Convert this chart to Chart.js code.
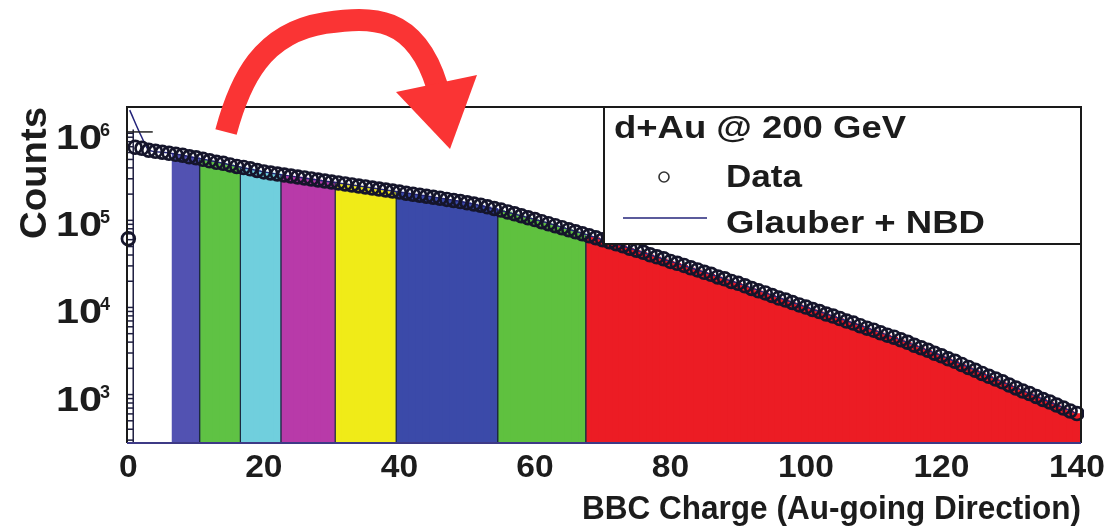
<!DOCTYPE html>
<html>
<head>
<meta charset="utf-8">
<script src="https://cdn.jsdelivr.net/npm/chart.js@4.4.1/dist/chart.umd.min.js"></script>
<style>
  html, body { margin: 0; padding: 0; background: #fff; }
  #wrap { width: 1109px; height: 530px; }
</style>
</head>
<body>
<div id="wrap"><canvas id="c" width="1109" height="530"></canvas></div>
<script>
// BBC charge (Au-going side), d+Au at 200 GeV: counts per unit charge bin, bins 0..140
const counts = [
  6.15e4, 6.89e5, 6.71e5, 6.37e5, 6.20e5, 6.04e5, 5.88e5, 5.72e5, 5.58e5, 5.36e5,
  5.22e5, 5.01e5, 4.82e5, 4.63e5, 4.51e5, 4.33e5, 4.16e5, 4.05e5, 3.90e5, 3.74e5,
  3.60e5, 3.50e5, 3.41e5, 3.32e5, 3.23e5, 3.15e5, 3.07e5, 2.99e5, 2.91e5, 2.83e5,
  2.76e5, 2.69e5, 2.62e5, 2.55e5, 2.48e5, 2.42e5, 2.35e5, 2.29e5, 2.23e5, 2.17e5,
  2.11e5, 2.05e5, 1.99e5, 1.94e5, 1.89e5, 1.84e5, 1.79e5, 1.74e5, 1.69e5, 1.64e5,
  1.59e5, 1.54e5, 1.49e5, 1.43e5, 1.37e5, 1.31e5, 1.25e5, 1.19e5, 1.13e5, 1.07e5,
  1.02e5, 9.66e4, 9.16e4, 8.69e4, 8.24e4, 7.81e4, 7.41e4, 7.02e4, 6.66e4, 6.32e4,
  5.99e4, 5.68e4, 5.39e4, 5.11e4, 4.78e4, 4.53e4, 4.30e4, 4.02e4, 3.81e4, 3.62e4,
  3.38e4, 3.21e4, 3.04e4, 2.85e4, 2.70e4, 2.53e4, 2.40e4, 2.24e4, 2.13e4, 1.99e4,
  1.89e4, 1.77e4, 1.65e4, 1.55e4, 1.47e4, 1.37e4, 1.28e4, 1.22e4, 1.14e4, 1.07e4,
  1.01e4, 9460, 8970, 8390, 7960, 7450, 6970, 6610, 6180, 5790,
  5490, 5130, 4810, 4560, 4260, 3990, 3680, 3450, 3230, 2980,
  2790, 2570, 2410, 2220, 2050, 1900, 1750, 1620, 1510, 1400,
  1290, 1190, 1100, 1030, 951, 878, 822, 759, 700, 647,
  605
];

// Glauber + NBD description of the same distribution
const fitCharge = [0.2, 1.95, 3, 5, 10, 20, 30, 40, 50, 60, 70, 80, 90, 100, 110, 120, 130, 140];
const fitCounts = [1.84e6, 9.1e5, 6.45e5, 6.04e5, 5.22e5, 3.60e5, 2.76e5, 2.11e5, 1.59e5, 1.02e5,
                   5.99e4, 3.38e4, 1.89e4, 1.01e4, 5.49e3, 2.79e3, 1.29e3, 605];

// short horizontal marker on the first bins
const capCharge = [-0.2, 3.6];
const capCounts = [1.035e6, 1.035e6];

// centrality classes: edges in BBC charge and their fill colours
const bandEdges = [6.5, 10.5, 16.5, 22.5, 30.5, 39.5, 54.5, 67.5, 140.5];
const bandColors = ['#5252b2', '#5fc244', '#70cfdd', '#b83aa9', '#f0eb18', '#3b4aa9', '#5fc13f', '#ec1c24'];

// zero-charge bin outline and its log-spaced tick rungs
const railCharge = [0.72, 0.72];
const railCounts = [278, 1.1e6];
const rungCounts = [300, 400, 500, 600, 700, 800, 900,
  1e3, 2e3, 3e3, 4e3, 5e3, 6e3, 7e3, 8e3, 9e3,
  1e4, 2e4, 3e4, 4e4, 5e4, 6e4, 7e4, 8e4, 9e4,
  1e5, 2e5, 3e5, 4e5, 5e5, 6e5, 7e5, 8e5, 9e5, 1e6];

// axis labelling
const xTicks = [0, 20, 40, 60, 80, 100, 120, 140];
const yDecades = [3, 4, 5, 6];

const FONT = '"Liberation Sans", Arial, Helvetica, sans-serif';
const INK = '#1c1c1c';

function bandIndex(q) {
  for (let j = 0; j < bandColors.length; j++) {
    if (q > bandEdges[j] && q < bandEdges[j + 1]) return j;
  }
  return -1;
}
function isBandStart(q) {
  const j = bandIndex(q);
  return j >= 0 && bandIndex(q - 1) !== j;
}

// text helper: optional fit-to-width, alignment and rotation
function drawText(ctx, text, x, y, size, opt = {}) {
  ctx.save();
  ctx.font = 'bold ' + size + 'px ' + FONT;
  const nat = ctx.measureText(text).width;
  const sx = opt.width ? opt.width / nat : (opt.stretch || 1);
  const w = nat * sx;
  const align = opt.align || 'left';
  const x0 = align === 'center' ? -w / 2 : align === 'right' ? -w : 0;
  ctx.translate(x, y);
  if (opt.rotate) ctx.rotate(opt.rotate);
  ctx.scale(sx, 1);
  ctx.fillStyle = opt.color || INK;
  ctx.textAlign = 'left';
  ctx.textBaseline = 'alphabetic';
  ctx.fillText(text, x0 / sx, 0);
  ctx.restore();
}

const decorations = {
  id: 'decorations',
  afterDraw(chart) {
    const ctx = chart.ctx;
    const a = chart.chartArea;
    const xs = chart.scales.x, ys = chart.scales.y;

    // frame
    ctx.save();
    ctx.lineWidth = 2;
    ctx.strokeStyle = '#1a1a1a';
    ctx.beginPath();
    ctx.moveTo(a.left, a.bottom);
    ctx.lineTo(a.left, a.top);
    ctx.lineTo(a.right, a.top);
    ctx.lineTo(a.right, a.bottom);
    ctx.stroke();
    ctx.strokeStyle = '#3e3a86';
    ctx.beginPath();
    ctx.moveTo(a.left, a.bottom);
    ctx.lineTo(a.right, a.bottom);
    ctx.stroke();
    ctx.restore();

    // legend box
    const lx = a.right - 477, ly = a.top, lw = 477, lh = 137;
    ctx.save();
    ctx.fillStyle = '#fff';
    ctx.fillRect(lx, ly, lw, lh);
    ctx.lineWidth = 2;
    ctx.strokeStyle = '#1a1a1a';
    ctx.strokeRect(lx, ly, lw, lh);
    const dataSet = chart.data.datasets.find(d => d.label === 'Data');
    const fitSet = chart.data.datasets.find(d => d.label === 'Glauber + NBD');
    ctx.beginPath();
    ctx.arc(lx + 60, ly + 70, 5, 0, Math.PI * 2);
    ctx.lineWidth = 1.6;
    ctx.strokeStyle = '#333';
    ctx.stroke();
    ctx.beginPath();
    ctx.moveTo(lx + 19, ly + 111);
    ctx.lineTo(lx + 103, ly + 111);
    ctx.lineWidth = 1.5;
    ctx.strokeStyle = fitSet.borderColor;
    ctx.stroke();
    ctx.restore();
    drawText(ctx, 'd+Au @ 200 GeV', lx + 10, ly + 31, 31, { width: 292 });
    drawText(ctx, dataSet.label, lx + 122, ly + 80, 31, { width: 76 });
    drawText(ctx, fitSet.label, lx + 122, ly + 126, 31, { width: 259 });

    // x tick labels
    xTicks.forEach(v => {
      drawText(ctx, String(v), xs.getPixelForValue(v), 477, 32, { align: 'center', stretch: 1.05 });
    });
    // y tick labels 10^n
    yDecades.forEach(k => {
      const py = ys.getPixelForValue(Math.pow(10, k));
      drawText(ctx, '10', 102, py + 16, 35, { align: 'right', width: 46 });
      drawText(ctx, String(k), 100, py + 3, 18);
    });
    // axis titles
    drawText(ctx, 'Counts', 46, a.top, 37, { align: 'right', rotate: -Math.PI / 2, width: 132 });
    drawText(ctx, 'BBC Charge (Au-going Direction)', a.right, 519, 34, { align: 'right', width: 499 });

    // curved red arrow
    ctx.save();
    ctx.strokeStyle = '#fa3434';
    ctx.fillStyle = '#fa3434';
    ctx.lineWidth = 22;
    ctx.lineCap = 'butt';
    ctx.beginPath();
    ctx.moveTo(226, 132);
    ctx.bezierCurveTo(240, 80, 262, 33, 325, 23);
    ctx.bezierCurveTo(372, 16, 415, 15, 437, 86);
    ctx.stroke();
    ctx.beginPath();
    ctx.moveTo(396, 92);
    ctx.lineTo(477, 75);
    ctx.lineTo(450, 149);
    ctx.closePath();
    ctx.fill();
    ctx.restore();
  }
};

const bins = counts.map((c, i) => ({ x: i, y: c }));

new Chart(document.getElementById('c'), {
  type: 'scatter',
  data: {
    datasets: [
      {
        type: 'scatter',
        label: 'Data',
        data: bins,
        pointStyle: 'circle',
        pointRadius: 6.4,
        pointBorderWidth: 2.7,
        pointBorderColor: '#15152b',
        pointBackgroundColor: 'rgba(0,0,0,0)',
        showLine: false,
        clip: { left: 10, top: 0, right: 3, bottom: 0 },
        order: 0
      },
      {
        type: 'line',
        label: 'cap',
        data: capCharge.map((x, i) => ({ x, y: capCounts[i] })),
        borderColor: '#222',
        borderWidth: 1.5,
        pointRadius: 0,
        order: 1
      },
      {
        type: 'scatter',
        label: 'rungs',
        data: rungCounts.map(v => ({ x: 0.24, y: v })),
        pointStyle: 'line',
        pointRadius: 3.3,
        pointBorderWidth: 1.5,
        pointBorderColor: '#1e1e40',
        order: 1
      },
      {
        type: 'line',
        label: 'rail',
        data: railCharge.map((x, i) => ({ x, y: railCounts[i] })),
        borderColor: '#1e1e40',
        borderWidth: 1.5,
        pointRadius: 0,
        order: 1
      },
      {
        type: 'line',
        label: 'Glauber + NBD',
        data: fitCharge.map((x, i) => ({ x, y: fitCounts[i] })),
        borderColor: '#24247a',
        borderWidth: 1.5,
        pointRadius: 0,
        fill: false,
        cubicInterpolationMode: 'monotone',
        order: 2
      },
      {
        type: 'bar',
        label: 'classes',
        data: bins,
        barThickness: 7.4,
        grouped: false,
        backgroundColor: c => {
          if (c.type !== 'data') return 'rgba(0,0,0,0)';
          const j = bandIndex(c.raw.x);
          return j < 0 ? 'rgba(0,0,0,0)' : bandColors[j];
        },
        borderColor: '#1b2a40',
        borderWidth: c => (c.type === 'data' && isBandStart(c.raw.x) && c.raw.x > 7)
          ? { left: 1.5, right: 0, top: 0, bottom: 0 } : 0,
        borderSkipped: false,
        order: 3
      }
    ]
  },
  options: {
    responsive: false,
    animation: false,
    events: [],
    layout: { padding: { left: 127, top: 107, right: 28, bottom: 87 } },
    plugins: { legend: { display: false }, tooltip: { enabled: false }, title: { display: false } },
    scales: {
      x: { type: 'linear', min: -0.2, max: 140.6, offset: false, display: false },
      y: { type: 'logarithmic', min: 278, max: 2.0e6, display: false }
    }
  },
  plugins: [decorations]
});
</script>
</body>
</html>
